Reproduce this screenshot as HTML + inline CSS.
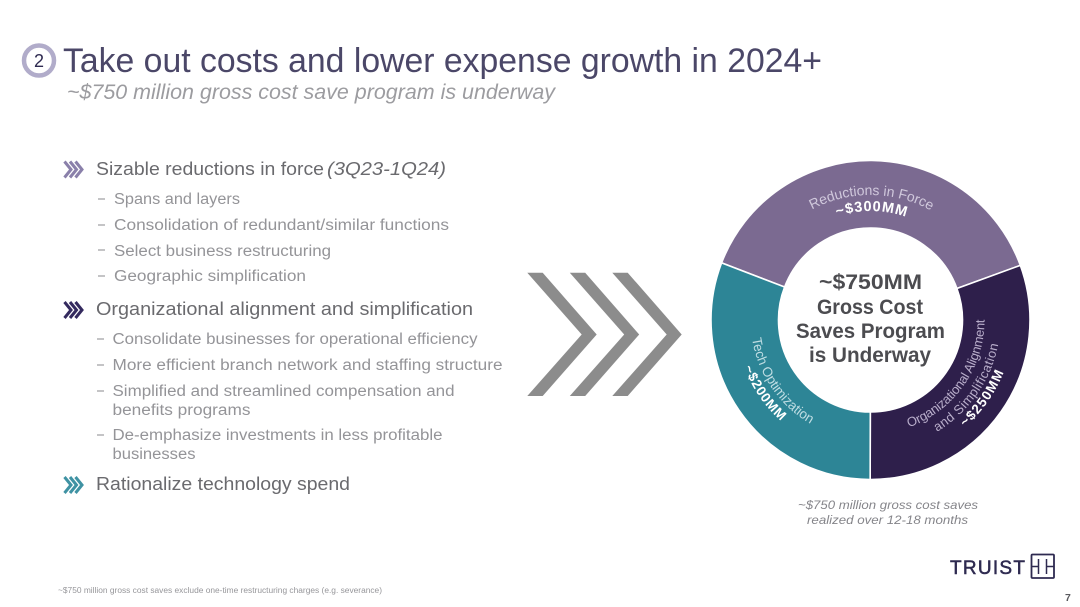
<!DOCTYPE html>
<html lang="en">
<head>
<meta charset="utf-8">
<title>Take out costs and lower expense growth in 2024+</title>
<style>
html,body{margin:0;padding:0;background:#fff;width:1080px;height:607px;overflow:hidden}
svg{display:block}
text{font-family:"Liberation Sans",sans-serif}
.bul{font-size:18px;fill:#6a6a6e}
.sub{font-size:15.5px;fill:#949498}
.dash{stroke:#8a8a8e;stroke-width:1}
.ctr{font-size:21px;font-weight:bold;fill:#4c4c50;text-anchor:middle}
.cap{font-size:12px;font-style:italic;fill:#85858a}
</style>
</head>
<body>
<svg id="slide" width="1080" height="607" viewBox="0 0 1080 607" xmlns="http://www.w3.org/2000/svg">
  <rect width="1080" height="607" fill="#fff"/>

  <g>
    <circle cx="39" cy="60.500" r="15" fill="#fff" stroke="#b1acca" stroke-width="4.500"/>
    <text x="39" y="67" text-anchor="middle" font-size="18" fill="#2e2a50">2</text>
  </g>
  <text x="63" y="72" font-size="34" fill="#4b4768" textLength="759" lengthAdjust="spacingAndGlyphs">Take out costs and lower expense growth in 2024+</text>
  <text x="67" y="99" font-size="21" font-style="italic" fill="#9c9ca0" textLength="488" lengthAdjust="spacingAndGlyphs">~$750 million gross cost save program is underway</text>

  <g>
    <g fill="none" stroke="#8a80aa" stroke-width="3">
      <path d="M64.500 161.500 L71 169.500 L64.500 177.500"/><path d="M70 161.500 L76.500 169.500 L70 177.500"/><path d="M75.500 161.500 L82 169.500 L75.500 177.500"/>
    </g>
    <text class="bul" x="96" y="175" textLength="228" lengthAdjust="spacingAndGlyphs">Sizable reductions in force</text>
    <text class="bul" x="327" y="175" font-style="italic" textLength="119" lengthAdjust="spacingAndGlyphs">(3Q23-1Q24)</text>

    <line class="dash" x1="98" x2="105" y1="199" y2="199"/>
    <text class="sub" x="114" y="204" textLength="126" lengthAdjust="spacingAndGlyphs">Spans and layers</text>
    <line class="dash" x1="98" x2="105" y1="225" y2="225"/>
    <text class="sub" x="114" y="230" textLength="335" lengthAdjust="spacingAndGlyphs">Consolidation of redundant/similar functions</text>
    <line class="dash" x1="98" x2="105" y1="250" y2="250"/>
    <text class="sub" x="114" y="256" textLength="217" lengthAdjust="spacingAndGlyphs">Select business restructuring</text>
    <line class="dash" x1="98" x2="105" y1="276" y2="276"/>
    <text class="sub" x="114" y="281" textLength="192" lengthAdjust="spacingAndGlyphs">Geographic simplification</text>

    <g fill="none" stroke="#342a5e" stroke-width="3">
      <path d="M64.500 302 L71 310 L64.500 318"/><path d="M70 302 L76.500 310 L70 318"/><path d="M75.500 302 L82 310 L75.500 318"/>
    </g>
    <text class="bul" x="96" y="315" textLength="377" lengthAdjust="spacingAndGlyphs">Organizational alignment and simplification</text>

    <line class="dash" x1="97" x2="104" y1="339" y2="339"/>
    <text class="sub" x="112.500" y="344" textLength="365" lengthAdjust="spacingAndGlyphs">Consolidate businesses for operational efficiency</text>
    <line class="dash" x1="97" x2="104" y1="365" y2="365"/>
    <text class="sub" x="112.500" y="370" textLength="390" lengthAdjust="spacingAndGlyphs">More efficient branch network and staffing structure</text>
    <line class="dash" x1="97" x2="104" y1="391" y2="391"/>
    <text class="sub" x="112.500" y="396" textLength="342" lengthAdjust="spacingAndGlyphs">Simplified and streamlined compensation and</text>
    <text class="sub" x="112.500" y="415" textLength="138" lengthAdjust="spacingAndGlyphs">benefits programs</text>
    <line class="dash" x1="97" x2="104" y1="435" y2="435"/>
    <text class="sub" x="112.500" y="440" textLength="330" lengthAdjust="spacingAndGlyphs">De-emphasize investments in less profitable</text>
    <text class="sub" x="112.500" y="459" textLength="83" lengthAdjust="spacingAndGlyphs">businesses</text>

    <g fill="none" stroke="#3f92a3" stroke-width="3">
      <path d="M64.500 477 L71 485 L64.500 493"/><path d="M70 477 L76.500 485 L70 493"/><path d="M75.500 477 L82 485 L75.500 493"/>
    </g>
    <text class="bul" x="96" y="490" textLength="254" lengthAdjust="spacingAndGlyphs">Rationalize technology spend</text>
  </g>

  <g fill="#8c8c8c">
    <polygon points="527.300,272.700 542.700,272.700 596.700,334.500 542.700,396 527.300,396 581.700,334.500"/>
    <polygon points="569.800,272.700 585.200,272.700 639.200,334.500 585.200,396 569.800,396 624.200,334.500"/>
    <polygon points="612.300,272.700 627.700,272.700 681.700,334.500 627.700,396 612.300,396 666.700,334.500"/>
  </g>

  <g id="donut"></g>

  <g>
    <text class="ctr" x="870.500" y="289" textLength="103" lengthAdjust="spacingAndGlyphs">~$750MM</text>
    <text class="ctr" x="870" y="314" textLength="106" lengthAdjust="spacingAndGlyphs">Gross Cost</text>
    <text class="ctr" x="870.500" y="338" textLength="149" lengthAdjust="spacingAndGlyphs">Saves Program</text>
    <text class="ctr" x="870" y="362" textLength="122" lengthAdjust="spacingAndGlyphs">is Underway</text>
  </g>

  <text class="cap" x="798" y="509" textLength="180" lengthAdjust="spacingAndGlyphs">~$750 million gross cost saves</text>
  <text class="cap" x="807" y="524" textLength="161" lengthAdjust="spacingAndGlyphs">realized over 12-18 months</text>

  <text x="58" y="593" font-size="8" fill="#96969a" textLength="324" lengthAdjust="spacingAndGlyphs">~$750 million gross cost saves exclude one-time restructuring charges (e.g. severance)</text>

  <g>
    <text x="950" y="574" font-size="19" fill="#2e2a50" stroke="#2e2a50" stroke-width="0.500" textLength="75" lengthAdjust="spacing">TRUIST</text>
    <rect x="1031.500" y="554.500" width="22.500" height="23.500" fill="none" stroke="#2e2a50" stroke-width="1.800" rx="1"/>
    <path d="M1031.500 566.500 H1038.500 M1038.500 559 V574 M1046.500 559 V574 M1046.500 566.500 H1054" fill="none" stroke="#2e2a50" stroke-width="1.500"/>
  </g>
  <text x="1065" y="601" font-size="10.500" font-weight="bold" fill="#5a5a5e">7</text>
</svg>

<script>
// Chart data
const sliceNames = ["Reductions in Force", "Organizational Alignment and Simplification", "Tech Optimization"];
const sliceAmounts = [300, 250, 200];
const sliceShares = [38.6, 30.6, 30.8];

// Drawing
const NS = "http://www.w3.org/2000/svg";
const donut = document.getElementById("donut");
const cx = 870.5, cy = 320, outerR = 159.5, innerR = 92, startAngle = -69;
const sliceColors = ["#7b6a91", "#2e1f4b", "#2d8596"];
const sliceKeys = ["reductions", "organizational", "tech"];
const shareTotal = sliceShares.reduce(function (a, b) { return a + b; }, 0);

function angleOf(share) { return share / shareTotal * 360; }
function polar(r, deg) {
  const a = (deg - 90) * Math.PI / 180;
  return [cx + r * Math.cos(a), cy + r * Math.sin(a)];
}
function amountLabel(v) { return "~$" + v + "MM"; }

// Label text wrapped into the rows that follow the ring, and their ring radii
function labelRows(i) {
  if (i === 0) return [
    { text: sliceNames[0], r: 125, len: 124, fill: "#d0c8dc", bold: false, size: 14, key: "name" },
    { text: amountLabel(sliceAmounts[0]), r: 109, len: 70, fill: "#ffffff", bold: true, size: 14.5, key: "amount" }
  ];
  if (i === 1) return [
    { text: "Organizational Alignment", r: 114, len: 140, fill: "#b9aecb", bold: false, size: 13, key: "name-line-1" },
    { text: "and Simplification", r: 130, len: 110, fill: "#b9aecb", bold: false, size: 13, key: "name-line-2" },
    { text: amountLabel(sliceAmounts[1]), r: 143, len: 68, fill: "#ffffff", bold: true, size: 13.5, key: "amount" }
  ];
  return [
    { text: sliceNames[2], r: 120, len: 107, fill: "#bfdde3", bold: false, size: 13.5, key: "name" },
    { text: amountLabel(sliceAmounts[2]), r: 135, len: 66, fill: "#ffffff", bold: true, size: 13.5, key: "amount" }
  ];
}

// Guide arc centred on the slice: clockwise on the top slice, counter-clockwise elsewhere
function guidePath(r, mid, clockwise) {
  const span = 85;
  const from = polar(r, clockwise ? mid - span : mid + span);
  const to = polar(r, clockwise ? mid + span : mid - span);
  return "M" + from[0].toFixed(2) + " " + from[1].toFixed(2) +
    " A" + r + " " + r + " 0 0 " + (clockwise ? 1 : 0) + " " + to[0].toFixed(2) + " " + to[1].toFixed(2);
}

const defs = document.createElementNS(NS, "defs");
donut.appendChild(defs);

let cursor = startAngle;
sliceShares.forEach(function (share, i) {
  const sweep = angleOf(share);
  const a0 = cursor, a1 = cursor + sweep;
  const large = sweep > 180 ? 1 : 0;
  const p0 = polar(outerR, a0), p1 = polar(outerR, a1), p2 = polar(innerR, a1), p3 = polar(innerR, a0);
  const d = "M" + p0.join(" ") + " A" + outerR + " " + outerR + " 0 " + large + " 1 " + p1.join(" ") +
    " L" + p2.join(" ") + " A" + innerR + " " + innerR + " 0 " + large + " 0 " + p3.join(" ") + " Z";
  const path = document.createElementNS(NS, "path");
  path.setAttribute("d", d);
  path.setAttribute("fill", sliceColors[i]);
  path.setAttribute("stroke", "#ffffff");
  path.setAttribute("stroke-width", "1.600");
  
  
  donut.appendChild(path);
  cursor = a1;
});

cursor = startAngle;
sliceShares.forEach(function (share, i) {
  const sweep = angleOf(share);
  const mid = cursor + sweep / 2;
  const clockwise = i === 0;
  labelRows(i).forEach(function (row, j) {
    const id = "guide-" + i + "-" + j;
    const guide = document.createElementNS(NS, "path");
    guide.setAttribute("id", id);
    guide.setAttribute("d", guidePath(row.r, mid, clockwise));
    defs.appendChild(guide);

    const t = document.createElementNS(NS, "text");
    t.setAttribute("font-size", row.size);
    t.setAttribute("fill", row.fill);
    t.setAttribute("text-anchor", "middle");
    if (row.bold) t.setAttribute("font-weight", "bold");
    
    

    const tp = document.createElementNS(NS, "textPath");
    tp.setAttribute("href", "#" + id);
    tp.setAttribute("startOffset", "50%");
    tp.setAttribute("textLength", row.len);
    tp.setAttribute("lengthAdjust", "spacing");
    tp.textContent = row.text;
    t.appendChild(tp);
    donut.appendChild(t);
  });
  cursor += sweep;
});
</script>
</body>
</html>
